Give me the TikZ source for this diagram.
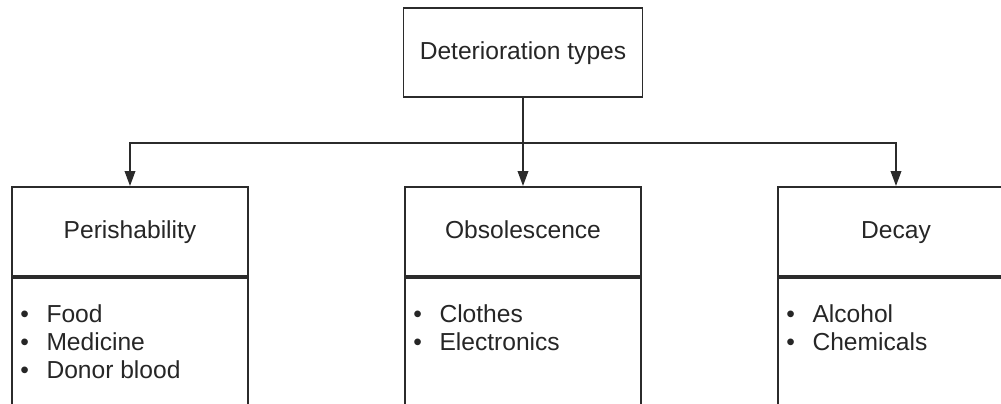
\documentclass[tikz,border=0pt]{standalone}
\usepackage{fontspec}
\setmainfont{Liberation Sans}
\usetikzlibrary{arrows.meta, positioning}
\definecolor{linegray}{HTML}{2b2b2b}
\definecolor{textgray}{HTML}{262626}

\begin{document}
\begin{tikzpicture}[x=0.02cm, y=-0.02cm,
    catbox/.style={draw=linegray, line width=1.1pt, minimum width=4.72cm, minimum height=1.78cm,
                   text height=10.5pt, text depth=3pt, text=textgray, font=\fontsize{14}{16}\selectfont},
    listbox/.style={draw=linegray, line width=1.1pt, minimum width=4.72cm, minimum height=3cm},
    items/.style={anchor=north west, inner sep=0pt, align=left, text=textgray,
                  font=\fontsize{14}{16}\selectfont},
    arrow/.style={draw=linegray, line width=1.1pt, -{Triangle[length=0.3cm, width=0.21cm]}}]
    \clip (0,0) rectangle (1001,403);
    \node[catbox, minimum width=4.78cm] (types) at (523,52.5) {Deterioration types};
    \node[catbox] (peri) at (130,231.5) {Perishability};
    \node[catbox] (obso) at (523,231.5) {Obsolescence};
    \node[catbox] (decay) at (896,231.5) {Decay};
    \node[listbox, below=0pt of peri] (perilist) {};
    \node[listbox, below=0pt of obso] (obsolist) {};
    \node[listbox, below=0pt of decay] (decaylist) {};
    \node[items] (periitems) at ([shift={(9,27)}]perilist.north west)
      {\textbullet\hspace{0.35cm}Food\\ \textbullet\hspace{0.35cm}Medicine\\ \textbullet\hspace{0.35cm}Donor blood};
    \node[items] (obsoitems) at ([shift={(9,27)}]obsolist.north west)
      {\textbullet\hspace{0.35cm}Clothes\\ \textbullet\hspace{0.35cm}Electronics};
    \node[items] (decayitems) at ([shift={(9,27)}]decaylist.north west)
      {\textbullet\hspace{0.35cm}Alcohol\\ \textbullet\hspace{0.35cm}Chemicals};
    % connectors
    \coordinate (split) at (523,143);
    \draw[arrow] (types) -- (obso);
    \draw[arrow] (split) -| (peri.north);
    \draw[arrow] (split) -| (decay.north);
\end{tikzpicture}
\end{document}
